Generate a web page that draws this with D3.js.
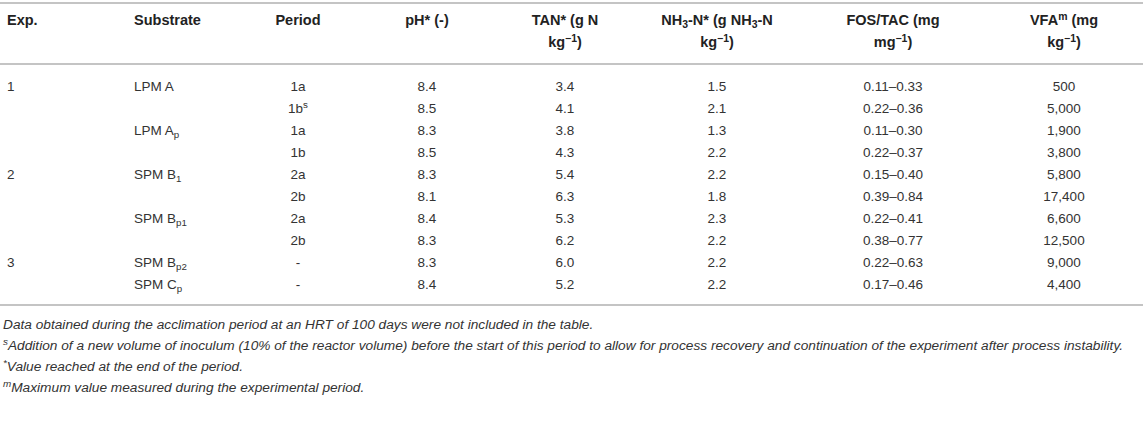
<!doctype html>
<html>
  <head>
    <meta charset="utf-8">
    <title>Table</title>
    <script src="https://cdn.jsdelivr.net/npm/d3@7/dist/d3.min.js" charset="utf-8"></script>
    <style>
      body { margin: 0; background: #fff; }
      svg { display: block; font-family: "Liberation Sans", Arial, Helvetica, sans-serif; }
    </style>
  </head>
  <body>
    <div id="svgContainer"></div>
  </body>
  <script>
    // table values
    var exps = ["1", "", "", "", "2", "", "", "", "3", ""];
    var substrateNames = ["LPM A", "", "LPM A", "", "SPM B", "", "SPM B", "", "SPM B", "SPM C"];
    var substrateSubs = ["", "", "p", "", "1", "", "p1", "", "p2", "p"];
    var periods = ["1a", "1b", "1a", "1b", "2a", "2b", "2a", "2b", "-", "-"];
    var periodSups = ["", "s", "", "", "", "", "", "", "", ""];
    var ph = [8.4, 8.5, 8.3, 8.5, 8.3, 8.1, 8.4, 8.3, 8.3, 8.4];
    var tan = [3.4, 4.1, 3.8, 4.3, 5.4, 6.3, 5.3, 6.2, 6.0, 5.2];
    var nh3 = [1.5, 2.1, 1.3, 2.2, 2.2, 1.8, 2.3, 2.2, 2.2, 2.2];
    var fosLow = [0.11, 0.22, 0.11, 0.22, 0.15, 0.39, 0.22, 0.38, 0.22, 0.17];
    var fosHigh = [0.33, 0.36, 0.30, 0.37, 0.40, 0.84, 0.41, 0.77, 0.63, 0.46];
    var vfa = [500, 5000, 1900, 3800, 5800, 17400, 6600, 12500, 9000, 4400];

    // header pieces: [text, kind] where kind is "" normal, "sub", "sup"
    var headers = [
      { key: "exp", lines: [[["Exp.", ""]]] },
      { key: "sub", lines: [[["Substrate", ""]]] },
      { key: "per", lines: [[["Period", ""]]] },
      { key: "ph", lines: [[["pH* (-)", ""]]] },
      { key: "tan", lines: [[["TAN* (g N", ""]], [["kg", ""], ["\u22121", "sup"], [")", ""]]] },
      { key: "nh3", lines: [[["NH", ""], ["3", "sub"], ["-N* (g NH", ""], ["3", "sub"], ["-N", ""]], [["kg", ""], ["\u22121", "sup"], [")", ""]]] },
      { key: "fos", lines: [[["FOS/TAC (mg", ""]], [["mg", ""], ["\u22121", "sup"], [")", ""]]] },
      { key: "vfa", lines: [[["VFA", ""], ["m", "sup"], [" (mg", ""]], [["kg", ""], ["\u22121", "sup"], [")", ""]]] }
    ];

    var footnotes = [
      [["Data obtained during the acclimation period at an HRT of 100 days were not included in the table.", ""]],
      [["s", "sup"], ["Addition of a new volume of inoculum (10% of the reactor volume) before the start of this period to allow for process recovery and continuation of the experiment after process instability.", ""]],
      [["*", "sup"], ["Value reached at the end of the period.", ""]],
      [["m", "sup"], ["Maximum value measured during the experimental period.", ""]]
    ];

    var width = 1143,
      height = 421;

    var svg = d3.select("#svgContainer")
                .append("svg")
                .attr("width", width)
                .attr("height", height);

    var colX = d3.scaleOrdinal()
      .domain(["exp", "sub", "per", "ph", "tan", "nh3", "fos", "vfa"])
      .range([7, 134, 298, 427, 565, 717, 893, 1064]);

    var colAnchor = function(key) {
      return (key === "exp" || key === "sub") ? "start" : "middle";
    };

    var rowY = d3.scalePoint()
      .domain(d3.range(exps.length))
      .range([91, 289]);

    var f1 = d3.format(".1f"),
      f2 = d3.format(".2f"),
      fc = d3.format(",");

    function addPieces(textSel, pieces, baseSize) {
      pieces.forEach(function(p) {
        var t = textSel.append("tspan").text(p[0]);
        if (p[1] === "sub") {
          t.attr("font-size", baseSize * 0.72).attr("baseline-shift", -baseSize * 0.22);
        } else if (p[1] === "sup") {
          t.attr("font-size", baseSize * 0.72).attr("baseline-shift", baseSize * 0.38);
        }
      });
    }

    // rules
    var rules = [3, 64, 305];
    svg.selectAll("line.rule")
      .data(rules)
      .enter()
      .append("line")
      .attr("class", "rule")
      .attr("x1", 0)
      .attr("x2", width)
      .attr("y1", function(d) { return d; })
      .attr("y2", function(d) { return d; })
      .attr("stroke", "#c4c4c4")
      .attr("stroke-width", 2);

    // header
    var headSize = 14.5;
    headers.forEach(function(h) {
      h.lines.forEach(function(line, i) {
        var t = svg.append("text")
          .attr("x", colX(h.key))
          .attr("y", 25 + i * 22)
          .attr("text-anchor", colAnchor(h.key))
          .attr("font-size", headSize)
          .attr("font-weight", "bold")
          .attr("fill", "#222");
        addPieces(t, line, headSize);
      });
    });

    // body
    var bodySize = 13.5;
    var rows = d3.range(exps.length).map(function(i) {
      return {
        exp: [[exps[i], ""]],
        sub: [[substrateNames[i], ""], [substrateNames[i] ? substrateSubs[i] : "", "sub"]],
        per: [[periods[i], ""], [periodSups[i], "sup"]],
        ph: [[f1(ph[i]), ""]],
        tan: [[f1(tan[i]), ""]],
        nh3: [[f1(nh3[i]), ""]],
        fos: [[f2(fosLow[i]) + "\u2013" + f2(fosHigh[i]), ""]],
        vfa: [[fc(vfa[i]), ""]]
      };
    });

    rows.forEach(function(r, i) {
      colX.domain().forEach(function(key) {
        var pieces = r[key].filter(function(p) { return p[0] !== ""; });
        if (!pieces.length) return;
        var t = svg.append("text")
          .attr("x", colX(key))
          .attr("y", rowY(i))
          .attr("text-anchor", colAnchor(key))
          .attr("font-size", bodySize)
          .attr("fill", "#333");
        addPieces(t, pieces, bodySize);
      });
    });

    // footnotes
    var noteSize = 13.7;
    footnotes.forEach(function(note, i) {
      var t = svg.append("text")
        .attr("x", 3)
        .attr("y", 329 + i * 21)
        .attr("font-size", noteSize)
        .attr("font-style", "italic")
        .attr("fill", "#333");
      addPieces(t, note, noteSize);
    });
  </script>
</html>
